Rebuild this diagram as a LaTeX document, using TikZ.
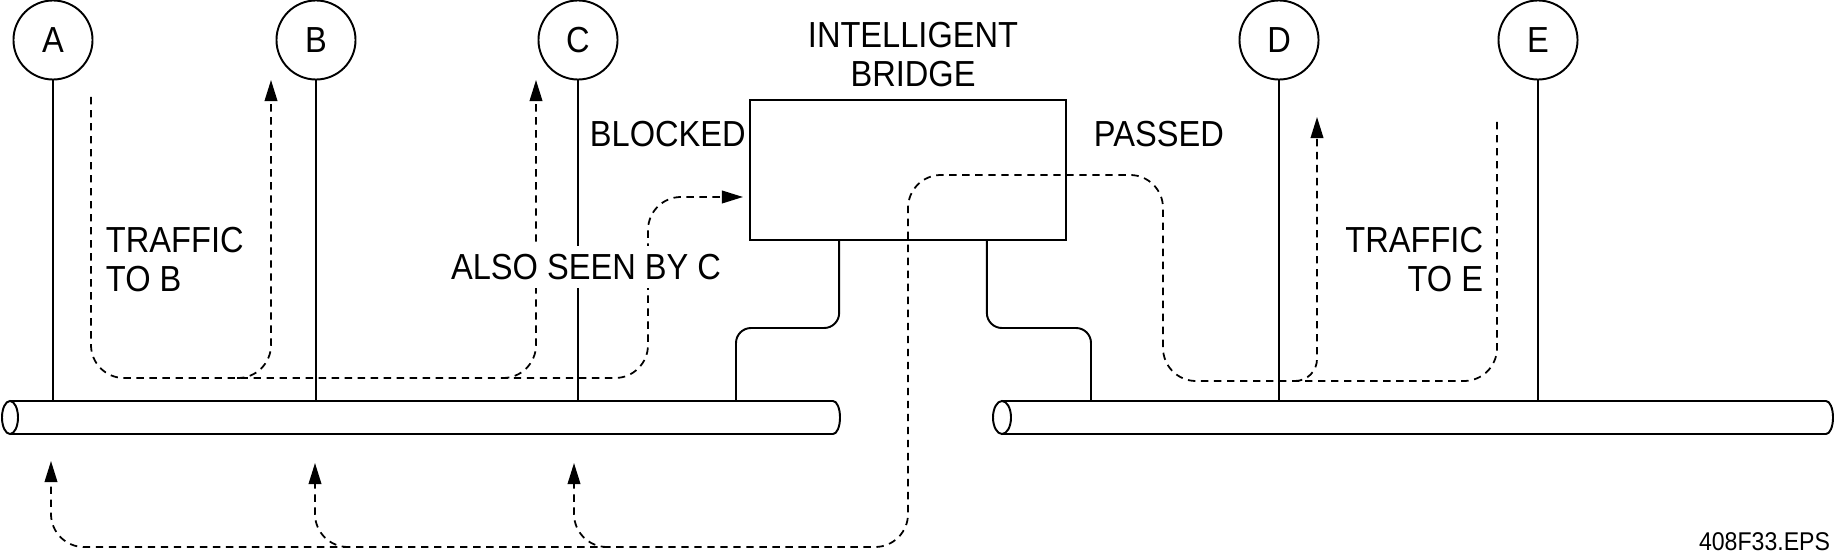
\documentclass[tikz,border=0pt]{standalone}
\usepackage{fontspec}
\setmainfont[FakeStretch=0.9]{Liberation Sans}
\usetikzlibrary{arrows.meta}
\tikzset{
  station/.style={circle, draw, minimum size=0.79cm, inner sep=0pt},
  flow/.style={line width=0.5pt, dash pattern=on 2.1pt off 1.6pt, rounded corners=0.33cm},
  flowtip/.style={flow, -{Triangle[length=6pt,width=3.6pt]}},
}
\begin{document}
\begin{tikzpicture}[x=0.01cm, y=-0.01cm, line width=0.55pt, font=\fontsize{10.3}{10.9}\selectfont]
        \useasboundingbox (0,0) rectangle (1834,558);
        \node[station] (A) at (53,40) {A};
        \node[station] (B) at (316,40) {B};
        \node[station] (C) at (578,40) {C};
        \node[station] (D) at (1279,40) {D};
        \node[station] (E) at (1538,40) {E};
        \node[draw, minimum width=3.157cm, minimum height=1.4cm] (bridge) at (908,170) {};
        \coordinate (busL) at (0,401);
        \coordinate (busR) at (0,401);
        % the two cables
        \draw (10,401) -- (833,401) arc[start angle=90, end angle=-90, x radius=0.07cm, y radius=0.165cm] -- (10,434);
        \draw (10,417.5) ellipse[x radius=0.08cm, y radius=0.165cm];
        \draw (1002,401) -- (1826,401) arc[start angle=90, end angle=-90, x radius=0.07cm, y radius=0.165cm] -- (1002,434);
        \draw (1002,417.5) ellipse[x radius=0.09cm, y radius=0.165cm];
        \draw (A) -- (A |- busL);
        \draw (B) -- (B |- busL);
        \draw (C) -- (C |- busL);
        \draw (D) -- (D |- busR);
        \draw (E) -- (E |- busR);
        \draw[rounded corners=0.15cm] ([xshift=0.9cm]bridge.south west) |- (736,328) -- (736,401);
        \draw[rounded corners=0.15cm] ([xshift=-0.8cm]bridge.south east) |- (1091,328) -- (1091,401);
        % traffic paths
        \draw[flowtip] (91,97) -- (91,378) -- (648,378) -- (648,197) -- (743,197);
        \draw[flowtip] (237,378) -| (271,80);
        \draw[flowtip] (502,378) -| (536,80);
        \draw[flowtip] (1497,122) -- (1497,381) -- (1163,381) -- (1163,175) -- (908,175) -- (908,547) -- (51,547) -- (51,461);
        \draw[flowtip, rounded corners=0.22cm] (1295,381) -| (1317,117);
        \draw[flowtip] (349,547) -| (315,463);
        \draw[flowtip] (608,547) -| (574,463);
        \node[fill=white, inner sep=2.4pt] (seen) at (586,267) {ALSO SEEN BY C};
        \node[anchor=north west, align=left, inner sep=0pt] (toB) at (105,226.7) {TRAFFIC\\TO B};
        \node[anchor=north east, align=right, inner sep=0pt] (toE) at (1484,226.7) {TRAFFIC\\TO E};
        \node[anchor=base west, inner sep=0pt] (blocked) at (589,146.7) {BLOCKED};
        \node[anchor=base west, inner sep=0pt] (passed) at (1093,146.7) {PASSED};
        \node[anchor=north, align=center, inner sep=0pt] (title) at (913,21.7) {INTELLIGENT\\BRIDGE};
        \node[anchor=base east, inner sep=0pt, font=\fontsize{7.3}{8}\selectfont] (fig) at (1831,550.7) {408F33.EPS};
    \end{tikzpicture}
\end{document}
